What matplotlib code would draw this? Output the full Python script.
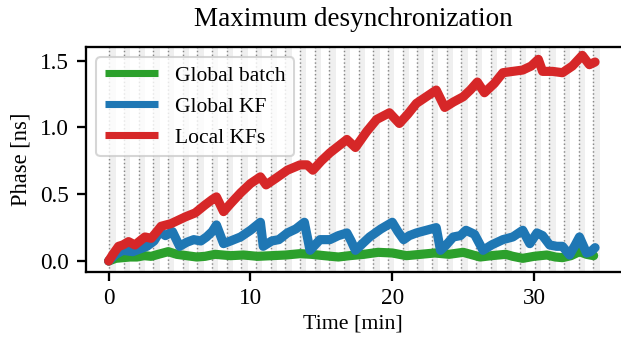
import numpy as np
import matplotlib
matplotlib.use('Agg')
import matplotlib.pyplot as plt

plt.rcParams['font.family'] = ['Liberation Serif', 'DejaVu Serif']
plt.rcParams['font.size'] = 10.3

# Global batch
t_batch = [0, 0.5, 1.0, 1.5, 2.0, 2.5, 3.0, 3.5, 4.2, 4.8, 5.5, 6.2, 6.8, 7.5, 8.6,
           9.5, 10.5, 11.5, 12.5, 13.5, 14.3, 15.2, 16.2, 17.0, 18.0, 19.0, 20.0,
           21.0, 22.0, 23.0, 24.0, 25.0, 26.2, 27.0, 28.0, 28.5, 29.2, 30.0, 30.9,
           31.5, 32.0, 32.6, 33.2, 33.7, 34.2]
y_batch = [0, 0.02, 0.025, 0.03, 0.03, 0.04, 0.035, 0.05, 0.07, 0.05, 0.04, 0.03,
           0.035, 0.05, 0.04, 0.045, 0.035, 0.04, 0.045, 0.055, 0.05, 0.04, 0.03,
           0.04, 0.05, 0.065, 0.06, 0.04, 0.05, 0.06, 0.05, 0.065, 0.03, 0.04, 0.05,
           0.035, 0.02, 0.035, 0.045, 0.03, 0.025, 0.04, 0.07, 0.05, 0.04]

# Global KF
t_gkf = [0, 0.5, 1.0, 1.7, 2.2, 2.7, 3.2, 3.6, 4.0, 4.5, 5.0, 5.5, 6.0, 6.5, 6.9,
         7.3, 7.6, 8.1, 8.6, 9.3, 10.0, 10.7, 10.9, 11.5, 12.0, 12.6, 13.2, 13.8,
         14.2, 14.9, 15.6, 16.2, 16.8, 17.1, 17.4, 17.9, 18.4, 19.2, 20.0, 20.4,
         20.8, 21.2, 21.7, 22.4, 23.1, 23.4, 23.8, 24.3, 24.8, 25.2, 25.8, 26.4,
         27.0, 27.8, 28.5, 29.2, 29.7, 30.2, 30.6, 31.1, 31.6, 32.0, 32.5, 32.9,
         33.2, 33.7, 34.0, 34.3]
y_gkf = [0, 0.05, 0.08, 0.07, 0.09, 0.11, 0.15, 0.22, 0.19, 0.22, 0.11, 0.14, 0.16,
         0.15, 0.18, 0.22, 0.27, 0.13, 0.15, 0.18, 0.23, 0.29, 0.11, 0.15, 0.16,
         0.21, 0.24, 0.29, 0.08, 0.16, 0.16, 0.19, 0.21, 0.15, 0.08, 0.13, 0.18,
         0.24, 0.29, 0.22, 0.16, 0.19, 0.21, 0.23, 0.25, 0.08, 0.12, 0.18, 0.19,
         0.23, 0.20, 0.08, 0.12, 0.16, 0.18, 0.23, 0.13, 0.21, 0.19, 0.12, 0.11,
         0.11, 0.045, 0.12, 0.18, 0.06, 0.07, 0.10]

# Local KFs
t_lkf = [0, 0.3, 0.7, 1.0, 1.4, 1.85, 2.2, 2.56, 3.0, 3.4, 3.7, 4.4, 5.0, 5.4, 6.1,
         6.8, 7.3, 7.6, 8.1, 8.6, 9.3, 10.0, 10.7, 11.1, 11.8, 12.6, 13.5, 14.0,
         14.4, 15.0, 15.6, 16.2, 16.8, 17.4, 18.2, 18.9, 19.8, 20.5, 21.1, 21.7,
         22.4, 23.1, 23.7, 24.3, 25.0, 25.5, 26.0, 26.5, 27.2, 27.8, 28.5, 29.2,
         29.8, 30.3, 30.6, 31.3, 32.0, 32.7, 33.4, 33.9, 34.3]
y_lkf = [0, 0.05, 0.11, 0.12, 0.145, 0.12, 0.15, 0.18, 0.17, 0.22, 0.26, 0.28, 0.31,
         0.33, 0.36, 0.42, 0.46, 0.48, 0.37, 0.43, 0.51, 0.58, 0.63, 0.57, 0.62,
         0.68, 0.72, 0.72, 0.68, 0.75, 0.81, 0.86, 0.91, 0.85, 0.97, 1.06, 1.11,
         1.03, 1.10, 1.18, 1.23, 1.28, 1.15, 1.19, 1.23, 1.28, 1.34, 1.26, 1.33,
         1.41, 1.42, 1.43, 1.46, 1.51, 1.42, 1.42, 1.41, 1.46, 1.54, 1.47, 1.49]

# batch boundaries (min)
n_batches = 34
batch_start = 0.05
batch_period = 1.034
batch_width = 0.45


def main():
    fig = plt.figure(figsize=(4.14, 2.2467), dpi=150)
    ax = fig.add_axes([0.138, 0.1938, 0.862, 0.6677])

    for k in range(n_batches):
        t0 = batch_start + k * batch_period
        ax.axvspan(t0, t0 + batch_width, color='#efefef', lw=0, zorder=0)
        ax.axvline(t0, color='#888888', ls=':', lw=0.7, zorder=1)

    style = dict(lw=4.4, solid_capstyle='round', solid_joinstyle='round')
    ax.plot(t_batch, y_batch, color='#2ca02c', label='Global batch', **style)
    ax.plot(t_gkf, y_gkf, color='#1f77b4', label='Global KF', **style)
    ax.plot(t_lkf, y_lkf, color='#d62728', label='Local KFs', **style)

    ax.set_xlim(-1.62, 36.13)
    ax.set_ylim(-0.08, 1.605)
    ax.set_xticks([0, 10, 20, 30])
    ax.set_yticks([0.0, 0.5, 1.0, 1.5])
    ax.spines['right'].set_visible(False)
    for s in ax.spines.values():
        s.set_linewidth(1.1)
    ax.tick_params(width=1.1, length=4.5, labelsize=11.2)

    ax.set_xlabel('Time [min]', fontsize=10.5, labelpad=2.5)
    ax.set_ylabel('Phase [ns]', fontsize=10.8)
    ax.set_title('Maximum desynchronization', fontsize=13, pad=10)
    leg = ax.legend(loc='upper left', handlelength=2.45)
    for h in leg.get_lines():
        h.set_linewidth(3.4)
        h.set_solid_capstyle('butt')

    fig.savefig('out.png', dpi=150)


if __name__ == '__main__':
    main()
